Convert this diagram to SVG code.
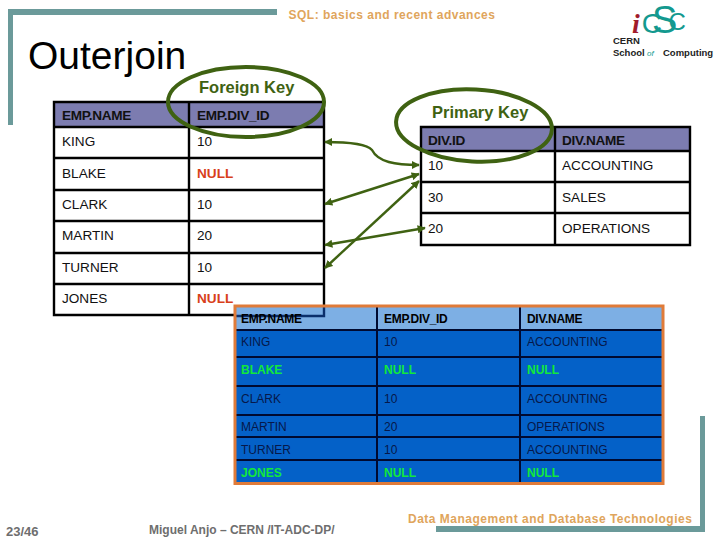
<svg xmlns="http://www.w3.org/2000/svg" width="720" height="540" viewBox="0 0 720 540">
<style>
text{font-family:"Liberation Sans",Arial,sans-serif}
.teal{fill:#6b9a9a}
.tan{fill:#e0a55c;font-weight:bold;font-size:12px;letter-spacing:.5px}
.foot{fill:#6e6e6e;font-weight:bold;font-size:12px}
.key{fill:#3f6212;font-weight:bold;font-size:16.500px}
.ring{fill:none;stroke:#3f6212;stroke-width:4}
.hd{fill:#7c7cb0}
.grid{fill:none;stroke:#000;stroke-width:2.4}
.t{font-size:13.6px;fill:#111}
.h{font-size:13.6px;font-weight:bold;fill:#111;letter-spacing:-.3px}
.null{font-size:13.6px;font-weight:bold;fill:#d8401a}
.rg{fill:none;stroke:#000a30;stroke-width:2}
.r{font-size:12px;fill:#06184a}
.rh{font-size:12px;font-weight:bold;fill:#000;letter-spacing:-.3px}
.rn{font-size:12px;font-weight:bold;fill:#12e83a}
.cn{fill:none;stroke:#3f6212;stroke-width:2.400;marker-start:url(#a);marker-end:url(#a)}
.lg{font-size:9.500px;font-weight:bold;fill:#222}
</style>
<defs>
<marker id="a" viewBox="0 0 10 10" refX="9" refY="5" markerWidth="3.400" markerHeight="3.400" orient="auto-start-reverse"><path d="M0 0L10 5L0 10Z" fill="#3f6212"/></marker>
</defs>
<rect width="720" height="540" fill="#fff"/>
<g id="frame">
<path class="teal" d="M8 9H277V15H13V125H8Z"/>
<path class="teal" d="M700 416H705V532H436V526H700Z"/>
</g>
<g id="header">
<text class="tan" x="392" y="19" text-anchor="middle">SQL: basics and recent advances</text>
<text x="28" y="69" font-size="39" fill="#000">Outerjoin</text>
</g>
<g id="logo">
<text x="632" y="33" fill="#13998f"><tspan font-size="28" font-style="italic" font-weight="bold" fill="#a11c2c" style="font-family:'Liberation Serif',serif">i</tspan><tspan font-size="28" dx="2">C</tspan><tspan font-size="38" dx="-10" dy="0">S</tspan><tspan font-size="24" dx="-9" dy="-3">C</tspan></text>
<text class="lg" x="613" y="44">CERN</text>
<text class="lg" x="613" y="56">School</text>
<text x="647" y="56" font-size="8" font-style="italic" fill="#13998f">of</text>
<text class="lg" x="663" y="56">Computing</text>
</g>
<g id="emp-table">
<rect class="hd" x="54" y="102" width="270" height="25"/>
<path class="grid" d="M54 102H324V315H54ZM54 127H324M54 158H324M54 190H324M54 221H324M54 253H324M54 284H324M189 102V315"/>
<text class="h" x="62" y="120">EMP.NAME</text><text class="h" x="197" y="120">EMP.DIV_ID</text>
<text class="t" x="62" y="146">KING</text><text class="t" x="197" y="146">10</text>
<text class="t" x="62" y="178">BLAKE</text><text class="null" x="197" y="178">NULL</text>
<text class="t" x="62" y="209">CLARK</text><text class="t" x="197" y="209">10</text>
<text class="t" x="62" y="240">MARTIN</text><text class="t" x="197" y="240">20</text>
<text class="t" x="62" y="272">TURNER</text><text class="t" x="197" y="272">10</text>
<text class="t" x="62" y="303">JONES</text><text class="null" x="197" y="303">NULL</text>
</g>
<g id="dept-table">
<rect class="hd" x="421" y="127" width="269" height="24"/>
<path class="grid" d="M421 127H690V245H421ZM421 151H690M421 182H690M421 213H690M555 127V245"/>
<text class="h" x="428" y="145">DIV.ID</text><text class="h" x="562" y="145">DIV.NAME</text>
<text class="t" x="428" y="170">10</text><text class="t" x="562" y="170">ACCOUNTING</text>
<text class="t" x="428" y="202">30</text><text class="t" x="562" y="202">SALES</text>
<text class="t" x="428" y="233">20</text><text class="t" x="562" y="233">OPERATIONS</text>
</g>
<g id="foreign-key">
<ellipse class="ring" cx="246" cy="102" rx="78" ry="35"/>
<text class="key" x="199" y="93">Foreign Key</text>
</g>
<g id="primary-key">
<ellipse class="ring" cx="474" cy="125.500" rx="78" ry="36" transform="rotate(3 474 125.500)"/>
<text class="key" x="432" y="118">Primary Key</text>
</g>
<g id="connectors">
<path class="cn" d="M325 142C345 142 367 144 372 150C378 162 395 165 419 165"/>
<path class="cn" d="M325 204L419 174"/>
<path class="cn" d="M325 245L425 228"/>
<path class="cn" d="M325 268L419 181"/>
</g>
<g id="result-table">
<rect x="235" y="307" width="428" height="176" fill="#0461c8"/>
<rect x="235" y="307" width="428" height="23" fill="#7dafe4"/>
<path d="M235 316H324V306" fill="none" stroke="#0b2f6b" stroke-width="2.400"/>
<path class="rg" d="M235 330H663M235 357H663M235 386H663M235 415H663M235 437H663M235 460H663M377 307V483M520 307V483"/>
<rect x="235" y="306" width="428" height="177.500" fill="none" stroke="#e07b39" stroke-width="3"/>
<text class="rh" x="241" y="323">EMP.NAME</text><text class="rh" x="384" y="323">EMP.DIV_ID</text><text class="rh" x="527" y="323">DIV.NAME</text>
<text class="r" x="241" y="346">KING</text><text class="r" x="384" y="346">10</text><text class="r" x="527" y="346">ACCOUNTING</text>
<text class="rn" x="241" y="374">BLAKE</text><text class="rn" x="384" y="374">NULL</text><text class="rn" x="527" y="374">NULL</text>
<text class="r" x="241" y="403">CLARK</text><text class="r" x="384" y="403">10</text><text class="r" x="527" y="403">ACCOUNTING</text>
<text class="r" x="241" y="431">MARTIN</text><text class="r" x="384" y="431">20</text><text class="r" x="527" y="431">OPERATIONS</text>
<text class="r" x="241" y="454">TURNER</text><text class="r" x="384" y="454">10</text><text class="r" x="527" y="454">ACCOUNTING</text>
<text class="rn" x="241" y="477">JONES</text><text class="rn" x="384" y="477">NULL</text><text class="rn" x="527" y="477">NULL</text>
</g>
<g id="footer">
<text class="foot" x="6" y="536" style="font-size:13px">23/46</text>
<text class="foot" x="149" y="534">Miguel Anjo – CERN /IT-ADC-DP/</text>
<text class="tan" x="408" y="523">Data Management and Database Technologies</text>
</g>
</svg>
